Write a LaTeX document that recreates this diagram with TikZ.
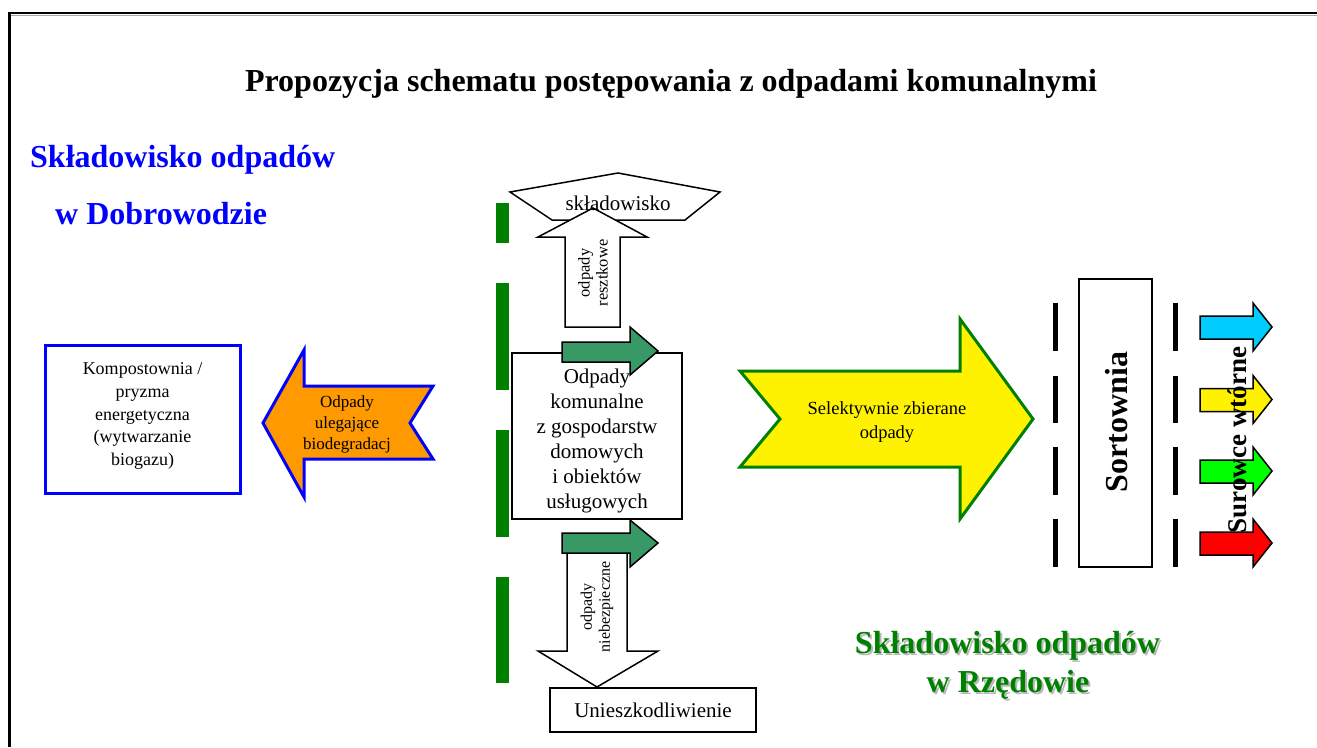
\documentclass[tikz,border=0pt]{standalone}
\usepackage{fontspec}
\setmainfont{Liberation Serif}
\definecolor{darkgr}{RGB}{0,128,0}
\definecolor{teal}{RGB}{56,153,102}
\definecolor{orng}{RGB}{255,153,0}
\definecolor{skyc}{RGB}{0,204,255}
\definecolor{limeg}{RGB}{0,255,0}
\tikzset{
  shapebox/.style={draw=black,fill=white,line width=1.5pt},
  bigarrow/.style={draw=black,fill=white,line width=1.5pt,line join=miter},
  tealarrow/.style={draw=black,fill=teal,line width=1.5pt,line join=miter},
  smallarrow/.style={draw=black,line width=1.5pt,line join=miter},
  lbl/.style={inner sep=0pt,align=center},
  gdash/.style={draw=darkgr,line width=13pt},
  kdash/.style={draw=black,line width=5pt},
}
\begin{document}
\begin{tikzpicture}[x=1pt,y=-1pt]
\useasboundingbox (0,0) rectangle (1317,747);
% frame
\draw[line width=1pt,gray!70] (9,15.5) -- (1317,15.5);
\draw[line width=2.5pt] (7.5,13) -- (1317,13);
\draw[line width=3pt] (9,11.8) -- (9,747);
% title
\node[lbl,anchor=base,font=\fontsize{32}{38}\selectfont\bfseries] (title) at (671,91) {Propozycja schematu postępowania z odpadami komunalnymi};
% left headings
\node[lbl,anchor=base west,text=blue,font=\fontsize{32}{38}\selectfont\bfseries] (dob1) at (30,167) {Składowisko odpadów};
\node[lbl,anchor=base west,text=blue,font=\fontsize{32}{38}\selectfont\bfseries] (dob2) at (55,224) {w Dobrowodzie};
% green dashed line
\foreach \a/\b in {203/243,283/390,430/537,577/683}
  \draw[gdash] (502.5,\a) -- (502.5,\b);
% skladowisko pentagon
\draw[shapebox,line join=miter] (510,192) -- (618,173) -- (720,192) -- (685,220) -- (552,220) -- cycle;
% up arrow
\draw[bigarrow] (565,327) -- (565,237) -- (538,237) -- (593,208) -- (647,237) -- (620,237) -- (620,327) -- cycle;
\node[lbl,font=\fontsize{21}{25}\selectfont] (skl) at (618,203) {składowisko};
\node[lbl,rotate=90,font=\fontsize{16.5}{18}\selectfont] (resz) at (593,273) {odpady\\resztkowe};
% main box
\draw[shapebox] (512,353) rectangle (682,519);
\draw[tealarrow] (562,342) -- (630,342) -- (630,327) -- (658,351) -- (630,375) -- (630,362) -- (562,362) -- cycle;
\node[lbl,font=\fontsize{21}{25}\selectfont] (main) at (597,441) {Odpady\\komunalne\\z gospodarstw\\domowych\\ i obiektów\\usługowych};
% down arrow
\draw[bigarrow] (567,545) -- (627,545) -- (627,651) -- (658,651) -- (597,687) -- (538,651) -- (567,651) -- cycle;
\draw[tealarrow] (562,533) -- (630,533) -- (630,520) -- (658,543) -- (630,567) -- (630,553) -- (562,553) -- cycle;
\node[lbl,rotate=90,font=\fontsize{16}{18}\selectfont] (nieb) at (597,607) {odpady\\niebezpieczne};
\draw[shapebox] (550,688) rectangle (756,732);
\node[lbl,font=\fontsize{21}{25}\selectfont] (unie) at (653,710) {Unieszkodliwienie};
% left box
\draw[draw=blue,fill=white,line width=3pt] (45,345) rectangle (240,493);
\node[lbl,font=\fontsize{18}{22.8}\selectfont] (komp) at (142.5,416) {Kompostownia /\\pryzma\\energetyczna\\(wytwarzanie\\biogazu)};
% orange arrow
\draw[draw=blue,fill=orng,line width=3pt,line join=miter] (263,423) -- (304,350) -- (304,386) -- (433,386) -- (410,423) -- (433,459) -- (304,459) -- (304,497) -- cycle;
\node[lbl,font=\fontsize{17}{21}\selectfont] (bio) at (347,424) {Odpady\\ulegające\\biodegradacj};
% yellow arrow
\draw[draw=darkgr,fill=yellow,line width=3pt,line join=miter] (740,371) -- (960,371) -- (960,319) -- (1033,419) -- (960,519) -- (960,467) -- (740,467) -- (780,419) -- cycle;
\node[lbl,font=\fontsize{18.5}{24}\selectfont] (sel) at (887,422) {Selektywnie zbierane\\odpady};
% sortownia
\foreach \a/\b in {303/351,376/423,447/495,519/567}{
  \draw[kdash] (1055.7,\a) -- (1055.7,\b);
  \draw[kdash] (1175.7,\a) -- (1175.7,\b);
}
\draw[shapebox] (1079,279) rectangle (1152,567);
\node[lbl,rotate=90,font=\fontsize{32}{38}\selectfont\bfseries] (sort) at (1117,422) {Sortownia};
% small colored arrows
\foreach \cy/\col in {327/skyc,399.5/yellow,471/limeg,543/red}
  \draw[smallarrow,fill=\col] (1200,\cy-11) -- (1253,\cy-11) -- (1253,\cy-24) -- (1272,\cy) -- (1253,\cy+24) -- (1253,\cy+12) -- (1200,\cy+12) -- cycle;
\node[lbl,rotate=90,font=\fontsize{27}{32}\selectfont\bfseries] (sur) at (1237,440) {Surowce wtórne};
% green heading with shadow
\node[lbl,anchor=base,text=gray!55,font=\fontsize{32}{38}\selectfont\bfseries] at (1009.5,655) {Składowisko odpadów};
\node[lbl,anchor=base,text=darkgr,font=\fontsize{32}{38}\selectfont\bfseries] (rz1) at (1007.5,653) {Składowisko odpadów};
\node[lbl,anchor=base,text=gray!55,font=\fontsize{32}{38}\selectfont\bfseries] at (1010,694) {w Rzędowie};
\node[lbl,anchor=base,text=darkgr,font=\fontsize{32}{38}\selectfont\bfseries] (rz2) at (1008,692) {w Rzędowie};
\end{tikzpicture}
\end{document}
